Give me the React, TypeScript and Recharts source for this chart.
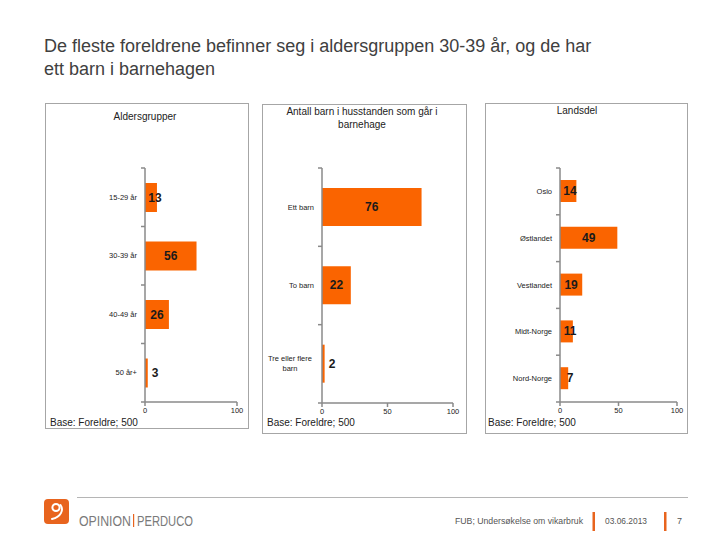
import React from 'react';
import { BarChart, Bar, XAxis, YAxis, LabelList } from 'recharts';

const ageCategories = ['15-29 år', '30-39 år', '40-49 år', '50 år+'];
const ageValues = [13, 56, 26, 3];
const childCategories = ['Ett barn', 'To barn', 'Tre eller flere\nbarn'];
const childValues = [76, 22, 2];
const regionCategories = ['Oslo', 'Østlandet', 'Vestlandet', 'Midt-Norge', 'Nord-Norge'];
const regionValues = [14, 49, 19, 11, 7];
const ageTicks = [0, 100];
const otherTicks = [0, 50, 100];

const FONT = '"Liberation Sans", Arial, sans-serif';
const ORANGE = '#FA6400';
const AXIS = '#8a8a8a';

const renderLabel = (props: any) => {
  const { x, y, width, height, value } = props;
  const cx = Math.max(x + width / 2, x + 10);
  return (
    <text
      x={cx}
      y={y + height / 2}
      textAnchor="middle"
      dominantBaseline="central"
      fontSize={12}
      fontWeight="bold"
      fill="#1a1a1a"
      fontFamily={FONT}
    >
      {value}
    </text>
  );
};

const makeYTick = (band: number, n: number) => (props: any) => {
  const { x, y, payload, index } = props;
  const lines = String(payload.value).split('\n');
  const ax = x + 8;
  const marks = [
    <line key="t" x1={ax - 4} x2={ax} y1={y - band / 2} y2={y - band / 2} stroke={AXIS} strokeWidth={1.5} />,
  ];
  if (index === n - 1) {
    marks.push(
      <line key="b" x1={ax - 4} x2={ax} y1={y + band / 2} y2={y + band / 2} stroke={AXIS} strokeWidth={1.5} />
    );
  }
  return (
    <g>
      {marks}
      {lines.length === 1 ? (
        <text x={x} y={y} textAnchor="end" dominantBaseline="central" fontSize={7.5} fill="#222" fontFamily={FONT}>
          {lines[0]}
        </text>
      ) : (
        <text x={x - 24} y={y} textAnchor="middle" fontSize={7.5} fill="#222" fontFamily={FONT}>
          {lines.map((l, i) => (
            <tspan key={i} x={x - 24} y={y - 5 + i * 10} dominantBaseline="central">
              {l}
            </tspan>
          ))}
        </text>
      )}
    </g>
  );
};

type PanelProps = {
  cats: string[];
  vals: number[];
  ticks: number[];
  left: number;
  top: number;
  width: number;
  height: number;
  yW: number;
  margin: { top: number; right: number; bottom: number; left: number };
  barSize: number;
};

const Panel = ({ cats, vals, ticks, left, top, width, height, yW, margin, barSize }: PanelProps) => {
  const data = cats.map((c, i) => ({ name: c, value: vals[i] }));
  const plotH = height - margin.top - margin.bottom - 20;
  const band = plotH / cats.length;
  return (
    <div style={{ position: 'absolute', left, top }}>
      <BarChart width={width} height={height} layout="vertical" data={data} margin={margin}>
        <XAxis
          type="number"
          domain={[0, 100]}
          ticks={ticks}
          height={20}
          axisLine={{ stroke: AXIS, strokeWidth: 1.5 }}
          tickLine={{ stroke: AXIS, strokeWidth: 1.5 }}
          tickSize={4}
          tick={{ fontSize: 7.5, fill: '#222', fontFamily: FONT }}
        />
        <YAxis
          type="category"
          dataKey="name"
          width={yW}
          axisLine={{ stroke: AXIS, strokeWidth: 1.5 }}
          tickLine={false}
          tickSize={0}
          tickMargin={8}
          interval={0}
          tick={makeYTick(band, cats.length)}
        />
        <Bar dataKey="value" fill={ORANGE} barSize={barSize} isAnimationActive={false}>
          <LabelList dataKey="value" content={renderLabel} />
        </Bar>
      </BarChart>
    </div>
  );
};

const Frame = ({ left, top, width, height }: { left: number; top: number; width: number; height: number }) => (
  <div
    style={{
      position: 'absolute',
      left,
      top,
      width,
      height,
      boxSizing: 'border-box',
      border: '1px solid #a6a6a6',
    }}
  />
);

const Title = ({ cx, top, lines }: { cx: number; top: number; lines: string[] }) => (
  <div
    style={{
      position: 'absolute',
      left: cx - 100,
      top,
      width: 200,
      textAlign: 'center',
      fontSize: 10,
      lineHeight: '13px',
      color: '#222',
      fontFamily: FONT,
    }}
  >
    {lines.map((l, i) => (
      <div key={i}>{l}</div>
    ))}
  </div>
);

const BaseText = ({ left }: { left: number }) => (
  <div
    style={{
      position: 'absolute',
      left,
      top: 417,
      fontSize: 10,
      lineHeight: '12px',
      color: '#222',
      fontFamily: FONT,
    }}
  >
    Base: Foreldre; 500
  </div>
);

export default function App() {
  return (
    <div
      style={{
        position: 'fixed',
        left: 0,
        top: 0,
        width: 720,
        height: 540,
        background: '#fff',
        overflow: 'hidden',
        fontFamily: FONT,
      }}
    >
      <div
        style={{
          position: 'absolute',
          left: 44,
          top: 35,
          fontSize: 18,
          lineHeight: '23px',
          color: '#404040',
          fontFamily: FONT,
        }}
      >
        <div>De fleste foreldrene befinner seg i aldersgruppen 30-39 år, og de har</div>
        <div>ett barn i barnehagen</div>
      </div>

      <Frame left={45} top={103} width={204} height={326} />
      <Frame left={262} top={104} width={205} height={330} />
      <Frame left={485} top={103} width={203} height={331} />

      <Title cx={145} top={110} lines={['Aldersgrupper']} />
      <Title cx={362} top={105} lines={['Antall barn i husstanden som går i', 'barnehage']} />
      <Title cx={577} top={104} lines={['Landsdel']} />

      <Panel
        cats={ageCategories}
        vals={ageValues}
        ticks={ageTicks}
        left={45}
        top={103}
        width={204}
        height={326}
        yW={100}
        margin={{ top: 65, right: 12, bottom: 7, left: 0 }}
        barSize={29}
      />
      <Panel
        cats={childCategories}
        vals={childValues}
        ticks={otherTicks}
        left={262}
        top={104}
        width={205}
        height={330}
        yW={60}
        margin={{ top: 64, right: 14, bottom: 11, left: 0 }}
        barSize={38}
      />
      <Panel
        cats={regionCategories}
        vals={regionValues}
        ticks={otherTicks}
        left={485}
        top={103}
        width={203}
        height={331}
        yW={75}
        margin={{ top: 65, right: 11, bottom: 12, left: 0 }}
        barSize={22}
      />

      <BaseText left={50} />
      <BaseText left={267} />
      <BaseText left={488} />

      <svg width={720} height={50} style={{ position: 'absolute', left: 0, top: 490 }}>
        <line x1={77} x2={688} y1={7.5} y2={7.5} stroke="#b5b5b5" strokeWidth={1} />
        <rect x={44} y={9} width={25} height={25} rx={4} fill="#E8641E" />
        <circle cx={56} cy={17.5} r={3.6} fill="none" stroke="#fff" strokeWidth={2} />
        <path d="M60.5 15 C64 20, 61 27, 52 29" fill="none" stroke="#fff" strokeWidth={2} strokeLinecap="round" />
        <text x={79} y={36} fontSize={14.5} fill="#7a7a7a" fontFamily={FONT} textLength={52} lengthAdjust="spacingAndGlyphs">
          OPINION
        </text>
        <rect x={133} y={24} width={1.2} height={13} fill="#E8641E" />
        <text x={137} y={36} fontSize={14.5} fill="#7a7a7a" fontFamily={FONT} textLength={56} lengthAdjust="spacingAndGlyphs">
          PERDUCO
        </text>
        <text x={455} y={34} fontSize={9} fill="#555" fontFamily={FONT} textLength={128} lengthAdjust="spacingAndGlyphs">
          FUB; Undersøkelse om vikarbruk
        </text>
        <rect x={592.5} y={22} width={2.5} height={19} fill="#E8641E" />
        <text x={605} y={34} fontSize={9} fill="#555" fontFamily={FONT} textLength={42} lengthAdjust="spacingAndGlyphs">
          03.06.2013
        </text>
        <rect x={664} y={22} width={2.5} height={19} fill="#E8641E" />
        <text x={677} y={34} fontSize={9} fill="#555" fontFamily={FONT}>
          7
        </text>
      </svg>
    </div>
  );
}
